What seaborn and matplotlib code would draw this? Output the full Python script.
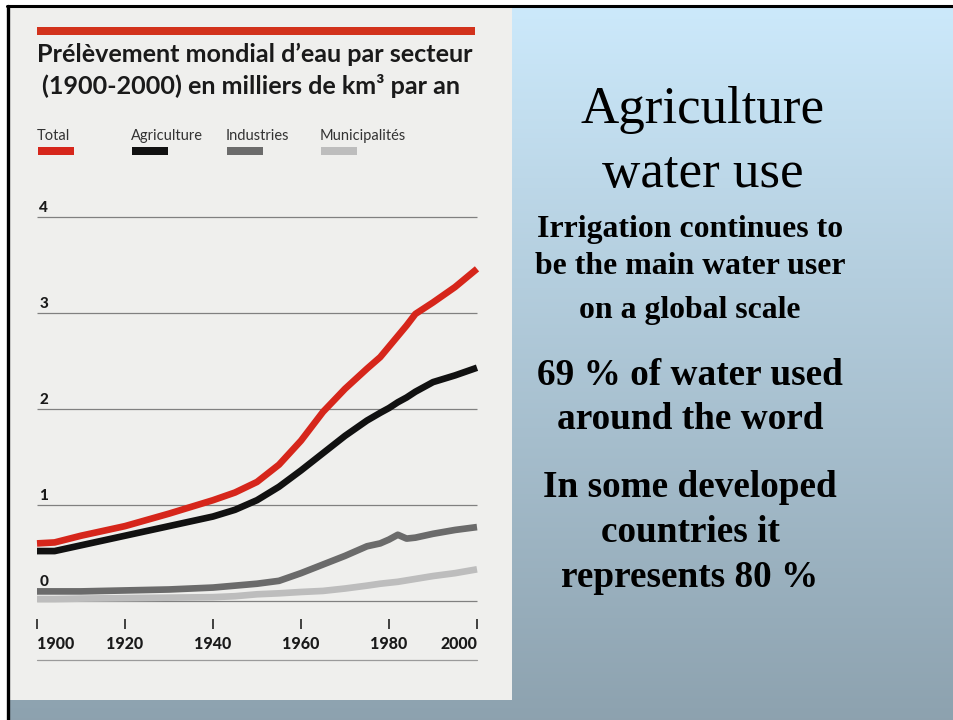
import numpy as np
import pandas as pd
import matplotlib
matplotlib.use("Agg")
import matplotlib.pyplot as plt
import seaborn as sns
from matplotlib.patches import Rectangle
from matplotlib.lines import Line2D
from matplotlib.transforms import blended_transform_factory

# ---------------- data (thousand km3 per year) ----------------
years = [1900, 1904, 1910, 1920, 1930, 1940, 1945, 1950, 1955, 1960, 1965,
         1970, 1975, 1978, 1980, 1982, 1984, 1986, 1988, 1990, 1995, 2000]
total = [0.60, 0.61, 0.68, 0.78, 0.91, 1.05, 1.13, 1.24, 1.42, 1.67, 1.97,
         2.21, 2.42, 2.54, 2.65, 2.76, 2.87, 2.99, 3.05, 3.11, 3.27, 3.46]
agriculture = [0.52, 0.52, 0.58, 0.68, 0.78, 0.88, 0.95, 1.05, 1.19, 1.36, 1.54,
               1.72, 1.88, 1.96, 2.01, 2.07, 2.12, 2.18, 2.23, 2.28, 2.35, 2.43]
industries = [0.10, 0.10, 0.10, 0.11, 0.12, 0.14, 0.16, 0.18, 0.21, 0.29, 0.38,
              0.47, 0.57, 0.60, 0.64, 0.69, 0.65, 0.66, 0.68, 0.70, 0.74, 0.77]
municipal = [0.02, 0.02, 0.025, 0.03, 0.035, 0.04, 0.05, 0.07, 0.08, 0.094, 0.105,
             0.13, 0.16, 0.18, 0.19, 0.20, 0.215, 0.23, 0.245, 0.26, 0.29, 0.33]

series_names = ["Total", "Agriculture", "Industries", "Municipalités"]
series_colors = ["#d6261b", "#111111", "#6b6b6b", "#bdbdbd"]
x_ticks = [1900, 1920, 1940, 1960, 1980, 2000]
y_ticks = [0, 1, 2, 3, 4]

title1 = "Prélèvement mondial d’eau par secteur"
title2 = "(1900-2000) en milliers de km³ par an"

df = pd.DataFrame({
    "year": years * 4,
    "value": total + agriculture + industries + municipal,
    "series": (["Total"] * len(years) + ["Agriculture"] * len(years)
               + ["Industries"] * len(years) + ["Municipalités"] * len(years)),
})

# ---------------- figure ----------------
sns.set_theme(style="white")
plt.rcParams['font.family'] = ['Lato', 'DejaVu Sans']

W, H = 954, 720
fig = plt.figure(figsize=(W / 100, H / 100), dpi=100)
fig.patch.set_facecolor("white")


def fx(px):
    return px / W


def fy(py):
    return 1 - py / H


# slide gradient background
bg = fig.add_axes([fx(10), 0, 1 - fx(10), 1 - 7 / H], zorder=-10)
t = np.linspace(0, 1, 300)[:, None, None]
top_c = np.array([0.800, 0.914, 0.984])
bot_c = np.array([0.553, 0.635, 0.686])
grad = top_c + (bot_c - top_c) * t
bg.imshow(grad, aspect="auto", extent=[0, 1, 0, 1], origin="upper")
bg.set_axis_off()

# scanned page
fig.add_artist(Rectangle((fx(10), fy(700)), (512 - 10) / W, (700 - 8) / H,
                         transform=fig.transFigure, facecolor="#efefed",
                         edgecolor="none", zorder=-5))
# slide frame lines
fig.add_artist(Line2D([fx(7), 1], [fy(6), fy(6)], transform=fig.transFigure,
                      color="black", lw=2.2, zorder=5))
fig.add_artist(Line2D([fx(8.5), fx(8.5)], [fy(6), 0], transform=fig.transFigure,
                      color="black", lw=2.4, zorder=5))

# red bar above title
fig.add_artist(Rectangle((fx(37), fy(35)), (475 - 37) / W, 8 / H,
                         transform=fig.transFigure, facecolor="#d2321c",
                         edgecolor="none"))

# titles
t1 = fig.text(fx(37), fy(62), title1, fontsize=17, weight="bold",
              color="#1a1a1a", ha="left", va="baseline")
t2 = fig.text(fx(42), fy(94), title2, fontsize=17, weight="bold",
              color="#1a1a1a", ha="left", va="baseline")

renderer = fig.canvas.get_renderer()


def fit(txt, target):
    w = txt.get_window_extent(renderer=renderer).width
    txt.set_fontsize(txt.get_fontsize() * target / w)


fit(t1, 437)
t2.set_fontsize(t1.get_fontsize())

# legend (text above swatches)
leg_x = [37, 131, 226, 320]
for name, col, lx in zip(series_names, series_colors, leg_x):
    fig.text(fx(lx), fy(140), name, fontsize=10.5, color="#333333",
             ha="left", va="baseline")
    fig.add_artist(Rectangle((fx(lx + 1), fy(155)), 36 / W, 8 / H,
                             transform=fig.transFigure, facecolor=col,
                             edgecolor="none"))

# ---------------- chart axes ----------------
ax_left, ax_right, ax_top, ax_bottom = 37, 477, 200, 619
zero_px, unit_px = 601, 96
ax = fig.add_axes([fx(ax_left), fy(ax_bottom), (ax_right - ax_left) / W,
                   (ax_bottom - ax_top) / H])
ax.patch.set_alpha(0)
ax.set_xlim(1900, 2000)
ax.set_ylim(-(ax_bottom - zero_px) / unit_px, (zero_px - ax_top) / unit_px)

for yv in y_ticks:
    ax.axhline(yv, color="#808080", lw=0.9, zorder=1)

hue_order = ["Municipalités", "Industries", "Agriculture", "Total"]
pal = dict(zip(series_names, series_colors))
sns.lineplot(data=df, x="year", y="value", hue="series", hue_order=hue_order,
             palette=pal, linewidth=4.8, legend=False, ax=ax, zorder=3)
for ln in ax.lines:
    ln.set_solid_capstyle("butt")
    ln.set_solid_joinstyle("round")
    ln.set_clip_on(False)

# y labels sitting above their grid lines
trans = blended_transform_factory(ax.transAxes, ax.transData)
for yv in y_ticks:
    off = 0.16 if yv == 0 else 0.05
    ax.text(0.005, yv + off, str(yv), transform=trans, fontsize=11,
            weight="black", color="#1a1a1a", ha="left", va="baseline")
ax.set_yticks([])

# x axis ticks
for s in ax.spines.values():
    s.set_visible(False)
ax.set_xticks(x_ticks)
ax.set_xticklabels([str(v) for v in x_ticks])
ax.tick_params(axis="x", bottom=True, direction="out", length=7.2, width=1.2,
               color="#222222", pad=5, labelsize=11.5, labelcolor="#1a1a1a")
labels = ax.get_xticklabels()
for i, lab in enumerate(labels):
    lab.set_fontweight("black")
    if i == 0:
        lab.set_horizontalalignment("left")
    elif i == len(labels) - 1:
        lab.set_horizontalalignment("right")
ax.set_xlabel("")
ax.set_ylabel("")

# line under the year labels
fig.add_artist(Line2D([fx(37), fx(477)], [fy(660), fy(660)],
                      transform=fig.transFigure, color="#9a9a9a", lw=0.9))

# ---------------- right side text ----------------
serif = ['Liberation Serif', 'DejaVu Serif']
h1 = fig.text(fx(703), fy(123), "Agriculture", family=serif, fontsize=38,
              ha="center", va="baseline", color="black")
fit(h1, 244)
fig.text(fx(703), fy(187), "water use", family=serif,
         fontsize=h1.get_fontsize(), ha="center", va="baseline", color="black")

p1 = ["Irrigation continues to", "be the main water user", "on a global scale"]
p1_base = [237, 274, 318]
a = fig.text(fx(690), fy(p1_base[0]), p1[0], family=serif, weight="bold",
             fontsize=23, ha="center", va="baseline", color="black")
fit(a, 306)
for line, b in zip(p1[1:], p1_base[1:]):
    fig.text(fx(690), fy(b), line, family=serif, weight="bold",
             fontsize=a.get_fontsize(), ha="center", va="baseline", color="black")

p2 = ["69 % of water used", "around the word", "In some developed",
      "countries it", "represents 80 %"]
p2_base = [385, 429, 497, 542, 587]
b0 = fig.text(fx(690), fy(p2_base[0]), p2[0], family=serif, weight="bold",
              fontsize=27, ha="center", va="baseline", color="black")
fit(b0, 306)
for line, b in zip(p2[1:], p2_base[1:]):
    fig.text(fx(690), fy(b), line, family=serif, weight="bold",
             fontsize=b0.get_fontsize(), ha="center", va="baseline", color="black")

fig.savefig("out.png", dpi=100)
